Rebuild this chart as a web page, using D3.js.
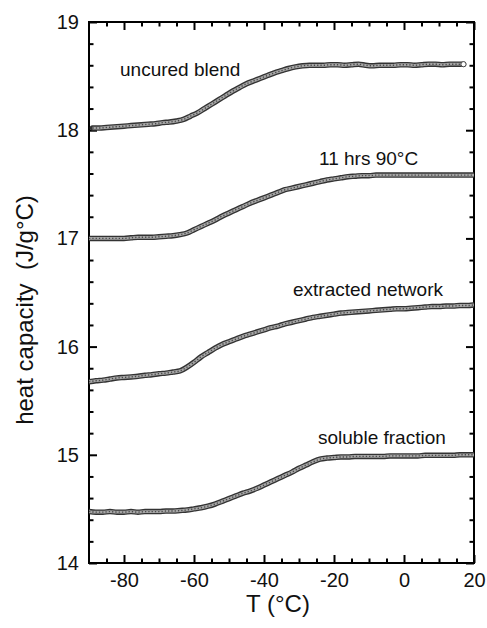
<!DOCTYPE html>
<html>
<head>
<meta charset="utf-8">
<script src="https://cdn.jsdelivr.net/npm/d3@7"></script>
<style>
  body { margin: 0; background: #fff; }
  svg { display: block; font-family: "Liberation Sans", Arial, sans-serif; }
</style>
</head>
<body>
<div id="chart"></div>
<script>
// temperatures (deg C) shared by three of the curves, uncured blend has its own
var temps = d3.range(-90, 20.1, 2);
var tempsUncured = d3.range(-89, 17.1, 2);

var uncuredBlend = [
  18.02, 18.02, 18.025, 18.03, 18.035, 18.04, 18.045, 18.05, 18.055, 18.06, 18.07, 18.075, 18.085,
  18.10, 18.13, 18.16, 18.20, 18.24, 18.28, 18.32, 18.36, 18.395, 18.43, 18.455, 18.48, 18.505, 18.53, 18.55, 18.57, 18.585, 18.595,
  18.60, 18.60, 18.60, 18.605, 18.605, 18.60, 18.605, 18.61, 18.60, 18.595, 18.60, 18.60, 18.60, 18.605, 18.605, 18.60, 18.605, 18.61, 18.61, 18.605, 18.61, 18.61, 18.61
];
var cured11h = [
  17.00, 17.00, 17.00, 17.00, 17.00, 17.00, 17.005, 17.01, 17.01, 17.01, 17.015, 17.02, 17.025, 17.035,
  17.05, 17.08, 17.11, 17.14, 17.17, 17.205, 17.235, 17.265, 17.295, 17.325, 17.35, 17.375, 17.40, 17.425,
  17.45, 17.465, 17.48, 17.495, 17.51, 17.525, 17.54, 17.55, 17.56, 17.57, 17.575, 17.58, 17.58, 17.585,
  17.585, 17.585, 17.585, 17.585, 17.585, 17.585, 17.585, 17.585, 17.585, 17.585, 17.585, 17.585, 17.585, 17.585
];
var extractedNetwork = [
  15.675, 15.685, 15.69, 15.70, 15.71, 15.715, 15.72, 15.725, 15.735, 15.74, 15.75, 15.755, 15.765, 15.775,
  15.81, 15.855, 15.905, 15.945, 15.985, 16.02, 16.045, 16.07, 16.095, 16.115, 16.135, 16.155, 16.175, 16.19,
  16.21, 16.225, 16.24, 16.255, 16.27, 16.28, 16.29, 16.30, 16.31, 16.315, 16.32, 16.325, 16.33, 16.335,
  16.34, 16.345, 16.35, 16.35, 16.355, 16.36, 16.365, 16.37, 16.37, 16.375, 16.375, 16.38, 16.38, 16.385
];
var solubleFraction = [
  14.475, 14.47, 14.47, 14.475, 14.47, 14.47, 14.475, 14.47, 14.475, 14.475, 14.475, 14.48, 14.48, 14.485,
  14.49, 14.50, 14.51, 14.525, 14.545, 14.57, 14.595, 14.62, 14.645, 14.665, 14.69, 14.72, 14.75, 14.78,
  14.81, 14.84, 14.875, 14.905, 14.935, 14.96, 14.97, 14.975, 14.98, 14.98, 14.985, 14.985, 14.985, 14.985,
  14.985, 14.99, 14.99, 14.99, 14.99, 14.99, 14.995, 14.995, 14.995, 14.995, 14.995, 15.0, 15.0, 15.0
];

var xTicks = [-80, -60, -40, -20, 0, 20];
var yTicks = [14, 15, 16, 17, 18, 19];

var series = [
  { name: 'uncured blend', t: tempsUncured, v: uncuredBlend, label: [120, 76], endMark: true },
  { name: '11 hrs 90\u00b0C', t: temps, v: cured11h, label: [319, 165] },
  { name: 'extracted network', t: temps, v: extractedNetwork, label: [293, 296] },
  { name: 'soluble fraction', t: temps, v: solubleFraction, label: [318, 444] }
];

var svgWidth = 487,
  svgHeight = 628,
  margin = { top: 22, right: 13, bottom: 65, left: 89 };
var width = svgWidth - margin.left - margin.right;
var height = svgHeight - margin.top - margin.bottom;

var svg = d3.select('#chart')
  .append('svg')
  .attr('width', svgWidth)
  .attr('height', svgHeight);
var g = svg.append('g')
  .attr('transform', 'translate(' + margin.left + ',' + margin.top + ')');

var x = d3.scaleLinear().domain([-90, 20]).range([0, width]);
var y = d3.scaleLinear().domain([14, 19]).range([height, 0]);

drawAxes(g, x, y, width, height);
drawCurves(g, x, y, width, height);

// plain hyphen for negatives, like the original plot
function plainNum(d) { return String(d); }

function tickAxis(g, axis, transform) {
  var a = g.append('g')
    .attr('transform', transform)
    .call(axis);
  a.select('.domain').remove();
  a.selectAll('.tick line').attr('stroke', '#000').attr('stroke-width', 2);
  a.selectAll('.tick text')
    .attr('fill', '#111')
    .attr('font-size', 20);
  return a;
}

function drawAxes(g, x, y, width, height) {
  var xMinor = d3.range(-85, 20, 5).filter(function (d) { return d % 20 !== 0; });
  var yMinor = d3.range(14.2, 19, 0.2).filter(function (d) { return Math.abs(d - Math.round(d)) > 0.01; });

  // bottom
  tickAxis(g, d3.axisBottom(x).tickValues(xTicks).tickSize(-8).tickPadding(10).tickFormat(plainNum), 'translate(0,' + height + ')');
  tickAxis(g, d3.axisBottom(x).tickValues(xMinor).tickSize(-4.5).tickFormat(''), 'translate(0,' + height + ')');
  // top
  tickAxis(g, d3.axisTop(x).tickValues(xTicks).tickSize(-8).tickFormat(''), 'translate(0,0)');
  tickAxis(g, d3.axisTop(x).tickValues(xMinor).tickSize(-4.5).tickFormat(''), 'translate(0,0)');
  // left
  tickAxis(g, d3.axisLeft(y).tickValues(yTicks).tickSize(-8).tickPadding(10).tickFormat(plainNum), 'translate(0,0)');
  tickAxis(g, d3.axisLeft(y).tickValues(yMinor).tickSize(-4.5).tickFormat(''), 'translate(0,0)');
  // right
  tickAxis(g, d3.axisRight(y).tickValues(yTicks).tickSize(-8).tickFormat(''), 'translate(' + width + ',0)');
  tickAxis(g, d3.axisRight(y).tickValues(yMinor).tickSize(-4.5).tickFormat(''), 'translate(' + width + ',0)');

  g.append('rect')
    .attr('width', width)
    .attr('height', height)
    .attr('fill', 'none')
    .attr('stroke', '#000')
    .attr('stroke-width', 2);

  g.append('text')
    .attr('x', 189)
    .attr('y', height + 49)
    .attr('text-anchor', 'middle')
    .attr('font-size', 24)
    .attr('fill', '#111')
    .text('T (\u00b0C)');

  g.append('text')
    .attr('transform', 'rotate(-90)')
    .attr('x', -288)
    .attr('y', -56)
    .attr('text-anchor', 'middle')
    .attr('font-size', 24)
    .attr('fill', '#111')
    .attr('xml:space', 'preserve')
    .style('white-space', 'pre')
    .text('heat capacity  (J/g\u00b0C)');
}

function drawCurves(g, x, y, width, height) {
  var line = d3.line()
    .x(function (d) { return x(d[0]); })
    .y(function (d) { return y(d[1]); })
    .curve(d3.curveMonotoneX);

  g.append('clipPath').attr('id', 'plotclip')
    .append('rect').attr('width', width).attr('height', height);

  var layer = g.append('g').attr('clip-path', 'url(#plotclip)');

  series.forEach(function (s) {
    var pts = s.t.map(function (t, i) { return [t, s.v[i]]; });
    // dense open-circle markers rendered as a speckled band
    layer.append('path').datum(pts)
      .attr('d', line).attr('fill', 'none')
      .attr('stroke', '#333').attr('stroke-width', 5.5).attr('stroke-linecap', 'round');
    layer.append('path').datum(pts)
      .attr('d', line).attr('fill', 'none')
      .attr('stroke', '#a6a6a6').attr('stroke-width', 2.8);
    layer.append('path').datum(pts)
      .attr('d', line).attr('fill', 'none')
      .attr('stroke', '#4a4a4a').attr('stroke-width', 1.4).attr('stroke-dasharray', '1.3,2');

    if (s.endMark) {
      var last = pts[pts.length - 1];
      layer.append('circle')
        .attr('cx', x(last[0]))
        .attr('cy', y(last[1]))
        .attr('r', 2.6)
        .attr('fill', '#fff')
        .attr('stroke', '#444')
        .attr('stroke-width', 1);
    }

    g.append('text')
      .attr('x', s.label[0] - margin.left)
      .attr('y', s.label[1] - margin.top)
      .attr('font-size', 19)
      .attr('fill', '#111')
      .text(s.name);
  });
}
</script>
</body>
</html>
